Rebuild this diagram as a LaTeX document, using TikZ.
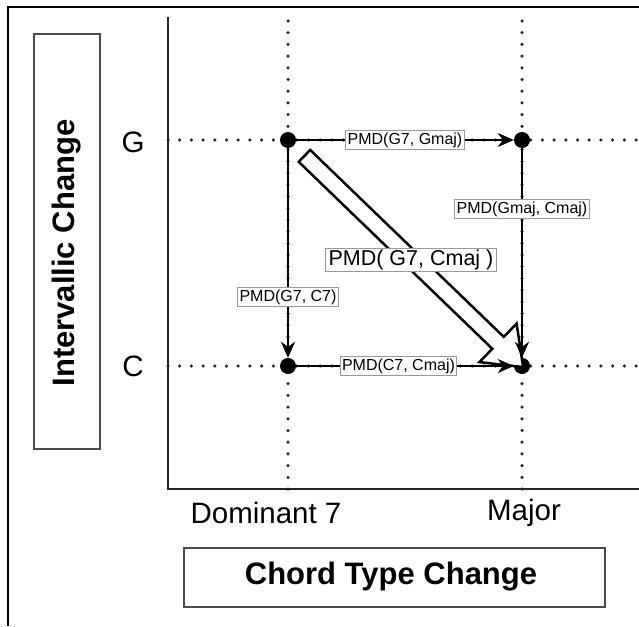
\documentclass[tikz,border=0pt]{standalone}
\usepackage{fontspec}
\setmainfont{Liberation Sans}
\usetikzlibrary{arrows.meta,shapes.arrows}

\tikzset{
  chord/.style={circle,fill=black,inner sep=0pt,minimum size=16pt},
  gridline/.style={line width=3.5pt,black!85,line cap=round,dash pattern=on 0pt off 11.7pt},
  pmd/.style={line width=2pt,-{Stealth[length=16pt,width=14pt,inset=5pt]}},
  pmdlabel/.style={fill=white,draw=black!40,line width=0.8pt,inner sep=1.8pt,font=\fontsize{16}{18}\selectfont},
  titlebox/.style={draw=black!70,line width=1.6pt,inner sep=0pt},
  titletext/.style={font=\fontsize{31}{33}\selectfont\bfseries},
  ticklabel/.style={font=\fontsize{29.5}{31}\selectfont},
}

\begin{document}
\begin{tikzpicture}[x=1pt,y=-1pt]
\useasboundingbox (0,0) rectangle (639,626);
% frame and axes
\draw[line width=1.5pt] (8,626) |- (639,7);
\draw[line width=1.5pt,black!85] (168,17) |- (639,489);
% dotted grid
\draw[gridline] (288,21) -- (288,489);
\draw[gridline] (522,21) -- (522,489);
\draw[gridline] (168,140) -- (639,140);
\draw[gridline] (168,366) -- (639,366);
% chords
\node[chord] (g7) at (288,140) {};
\node[chord] (gmaj) at (522,140) {};
\node[chord] (c7) at (288,366) {};
\node[chord] (cmaj) at (522,366) {};
% big arrow
\path (g7.center) -- (cmaj.center)
  node[pos=0.521,sloped,single arrow,draw,fill=white,line width=2.5pt,inner sep=0pt,
       minimum height=304pt,single arrow head extend=18.5pt,single arrow tip angle=75]
  (diag) {\rule{0pt}{14pt}};
\node[pmdlabel,inner xsep=3pt,font=\fontsize{21.5}{23}\selectfont] (diaglabel) at (411,260) {PMD( G7, Cmaj )};
% small arrows
\draw[pmd] (g7) -- (gmaj) node[midway,pmdlabel] {PMD(G7, Gmaj)};
\draw[pmd] (g7) -- (c7) node[pos=0.71,pmdlabel] {PMD(G7, C7)};
\draw[pmd] (gmaj) -- (cmaj) node[pos=0.29,pmdlabel] {PMD(Gmaj, Cmaj)};
\draw[pmd] (c7) -- (cmaj) node[pos=0.47,pmdlabel] {PMD(C7, Cmaj)};
% tick labels
\node[ticklabel] (gtick) at (133,142) {G};
\node[ticklabel] (ctick) at (133,366) {C};
\node[ticklabel] (domtick) at (266,513) {Dominant 7};
\node[ticklabel] (majtick) at (524,513) {Major};
% axis titles
\node[titlebox,minimum width=66pt,minimum height=415pt] (ybox) at (67,241.5) {};
\node[titletext,rotate=90] (ytitle) at (67,253) {Intervallic Change};
\node[titlebox,minimum width=421pt,minimum height=59pt] (xbox) at (394.5,577.5) {};
\node[titletext] (xtitle) at (391,577) {Chord Type Change};
\end{tikzpicture}
\end{document}
